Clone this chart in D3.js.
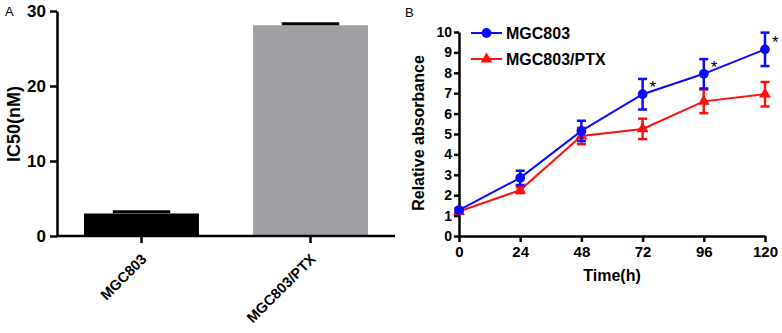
<!DOCTYPE html>
<html>
<head>
<meta charset="utf-8">
<script src="https://cdn.jsdelivr.net/npm/d3@7"></script>
<style>
  body { margin: 0; background: #fff; }
  svg text { font-family: "Liberation Sans", Arial, sans-serif; }
  .axis path, .axis line { stroke: #000; stroke-width: 2.5; }
  .axis text { font-weight: bold; fill: #000; }
</style>
</head>
<body>
<div id="chart"></div>
<script>
// panel A data
var cellLines = ["MGC803", "MGC803/PTX"];
var ic50 = [3.0, 28.1];
var ic50Err = [0.25, 0.2];
var barColors = ["#000000", "#a0a0a4"];

// panel B data
var hours = [0, 24, 48, 72, 96, 120];
var mgc803 = [1.27, 2.85, 5.15, 6.95, 7.95, 9.15];
var mgc803Err = [0.1, 0.35, 0.5, 0.75, 0.72, 0.82];
var mgcPtx = [1.2, 2.25, 4.9, 5.25, 6.6, 6.95];
var mgcPtxErr = [0.08, 0.15, 0.4, 0.5, 0.58, 0.6];
var starredHours = [72, 96, 120];

var svg = d3.select("#chart").append("svg")
    .attr("width", 782)
    .attr("height", 333);

// ---------- Panel A ----------
var xA = d3.scaleBand().domain(cellLines).range([57, 395]).paddingInner(0.32).paddingOuter(0.16);
var yA = d3.scaleLinear().domain([0, 30]).range([236, 11]);

svg.append("text").attr("x", 5).attr("y", 16).text("A")
    .style("font-size", "13px");

svg.append("g").selectAll("rect")
    .data(cellLines)
    .enter()
    .append("rect")
    .attr("x", function (d) { return xA(d); })
    .attr("y", function (d, i) { return yA(ic50[i]); })
    .attr("width", xA.bandwidth())
    .attr("height", function (d, i) { return yA(0) - yA(ic50[i]); })
    .attr("fill", function (d, i) { return barColors[i]; });

// error caps (only upper part shows above the bar)
svg.append("g").selectAll("line")
    .data(cellLines)
    .enter()
    .append("line")
    .attr("x1", function (d) { return xA(d) + xA.bandwidth() * 0.25; })
    .attr("x2", function (d) { return xA(d) + xA.bandwidth() * 0.75; })
    .attr("y1", function (d, i) { return yA(ic50[i] + ic50Err[i]); })
    .attr("y2", function (d, i) { return yA(ic50[i] + ic50Err[i]); })
    .attr("stroke", "#000")
    .attr("stroke-width", 3);

svg.append("g")
    .attr("class", "axis")
    .attr("transform", "translate(57,0)")
    .call(d3.axisLeft(yA).tickValues([0, 10, 20, 30]).tickSize(7).tickSizeOuter(0).tickPadding(4))
    .selectAll("text").style("font-size", "17px");

var gxA = svg.append("g")
    .attr("class", "axis")
    .attr("transform", "translate(0,236)")
    .call(d3.axisBottom(xA).tickSize(7).tickSizeOuter(0));
gxA.select(".domain").attr("d", "M57,0H395");
gxA.selectAll("text")
    .style("font-size", "14.5px")
    .attr("text-anchor", "end")
    .attr("dy", null)
    .attr("y", 0)
    .attr("transform", "translate(6,24) rotate(-45)");

svg.append("text")
    .attr("transform", "translate(20,124) rotate(-90)")
    .attr("text-anchor", "middle")
    .style("font-size", "18px")
    .style("font-weight", "bold")
    .text("IC50(nM)");

// ---------- Panel B ----------
var xB = d3.scaleLinear().domain([0, 120]).range([459, 765]);
var yB = d3.scaleLinear().domain([0, 10]).range([236, 32]);

svg.append("text").attr("x", 405).attr("y", 17).text("B")
    .style("font-size", "13px");

svg.append("g")
    .attr("class", "axis")
    .attr("transform", "translate(459,0)")
    .call(d3.axisLeft(yB).ticks(10).tickSize(5).tickSizeOuter(0).tickPadding(2))
    .selectAll("text").style("font-size", "14px");

svg.append("g")
    .attr("class", "axis")
    .attr("transform", "translate(0,236)")
    .call(d3.axisBottom(xB).tickValues(hours).tickSize(6).tickSizeOuter(0).tickPadding(4))
    .selectAll("text").style("font-size", "15px");

svg.append("text")
    .attr("x", 612).attr("y", 281)
    .attr("text-anchor", "middle")
    .style("font-size", "16px")
    .style("font-weight", "bold")
    .text("Time(h)");

svg.append("text")
    .attr("transform", "translate(424,133) rotate(-90)")
    .attr("text-anchor", "middle")
    .style("font-size", "16px")
    .style("font-weight", "bold")
    .text("Relative absorbance");

var series = [
    { name: "MGC803", values: mgc803, err: mgc803Err, color: "#0a0aff", shape: d3.symbolCircle },
    { name: "MGC803/PTX", values: mgcPtx, err: mgcPtxErr, color: "#ff1010", shape: d3.symbolTriangle }
];

var line = d3.line()
    .x(function (d, i) { return xB(hours[i]); })
    .y(function (d) { return yB(d); });

// draw red first so blue sits on top
series.slice().reverse().forEach(function (s) {
    var g = svg.append("g");
    g.append("path")
        .attr("d", line(s.values))
        .attr("fill", "none")
        .attr("stroke", s.color)
        .attr("stroke-width", 2);

    var eb = g.selectAll(".eb")
        .data(s.values)
        .enter()
        .append("g");
    eb.append("line")
        .attr("x1", function (d, i) { return xB(hours[i]); })
        .attr("x2", function (d, i) { return xB(hours[i]); })
        .attr("y1", function (d, i) { return yB(d - s.err[i]); })
        .attr("y2", function (d, i) { return yB(d + s.err[i]); })
        .attr("stroke", s.color).attr("stroke-width", 2.5);
    [-1, 1].forEach(function (sign) {
        eb.append("line")
            .attr("x1", function (d, i) { return xB(hours[i]) - 4.5; })
            .attr("x2", function (d, i) { return xB(hours[i]) + 4.5; })
            .attr("y1", function (d, i) { return yB(d + sign * s.err[i]); })
            .attr("y2", function (d, i) { return yB(d + sign * s.err[i]); })
            .attr("stroke", s.color).attr("stroke-width", 2.5);
    });
    eb.append("path")
        .attr("d", d3.symbol().type(s.shape).size(s.shape === d3.symbolCircle ? 75 : 60))
        .attr("transform", function (d, i) { return "translate(" + xB(hours[i]) + "," + yB(d) + ")"; })
        .attr("fill", s.color);
});

// significance marks next to the MGC803 points
svg.append("g").selectAll("text")
    .data(starredHours)
    .enter()
    .append("text")
    .attr("x", function (h) { return xB(h) + 7; })
    .attr("y", function (h) { return yB(mgc803[hours.indexOf(h)]) - 1; })
    .style("font-size", "17px")
    .text("*");

// legend
var legend = svg.append("g").attr("transform", "translate(471,0)");
series.forEach(function (s, i) {
    var ly = 33 + i * 26;
    legend.append("line")
        .attr("x1", 0).attr("x2", 31)
        .attr("y1", ly).attr("y2", ly)
        .attr("stroke", s.color).attr("stroke-width", 2);
    legend.append("path")
        .attr("d", d3.symbol().type(s.shape).size(s.shape === d3.symbolCircle ? 75 : 60))
        .attr("transform", "translate(15.5," + ly + ")")
        .attr("fill", s.color);
    legend.append("text")
        .attr("x", 35).attr("y", ly + 6)
        .style("font-size", "16px")
        .style("font-weight", "bold")
        .text(s.name);
});
</script>
</body>
</html>
